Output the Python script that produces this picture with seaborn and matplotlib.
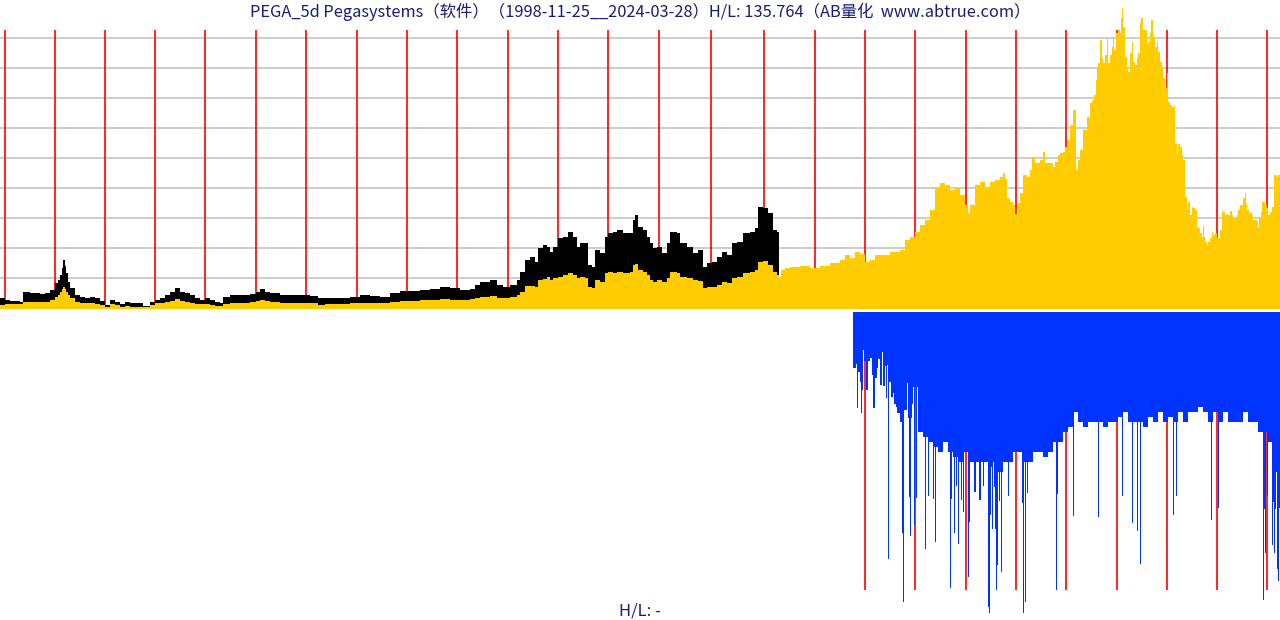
import numpy as np
import matplotlib
matplotlib.use("Agg")
import matplotlib.pyplot as plt
import seaborn as sns

# ---------------- data (bar index ~ weekly bars, heights in chart units) ----------------
title = "PEGA_5d Pegasystems（软件）（1998-11-25__2024-03-28）H/L: 135.764（AB量化  www.abtrue.com）"
footer = "H/L: -"

year_pos = [5, 55, 105, 155, 205, 256, 306, 357, 407, 457, 508, 558, 608, 659, 711,
            764, 815, 865, 915, 966, 1016, 1066, 1117, 1167, 1217, 1267]
grid_levels = [30, 60, 90, 120, 150, 180, 210, 240, 270]

# early period: close (yellow) and high band (black)
early_x = [0, 5, 10, 15, 20, 23, 30, 35, 40, 45, 50, 55, 58, 60, 62, 63, 65, 66, 68, 70, 75, 80, 85, 90, 95,
           100, 105, 110, 115, 120, 125, 130, 140, 143, 150, 155, 160, 165, 170, 175, 180, 185, 190, 195,
           200, 205, 210, 215, 220, 223, 230, 240, 250, 256, 260, 265, 270, 280, 290, 300, 310, 318, 325,
           335, 345, 350, 360, 370, 380, 390, 400, 410, 420, 430, 440, 450, 460, 470, 475, 480, 490, 497,
           503, 510, 517, 520, 525, 530, 535, 538, 543, 547, 550, 553, 558, 563, 568, 573, 577, 580, 585,
           588, 592, 595, 600, 605, 608, 613, 617, 623, 630, 633, 635, 638, 643, 647, 650, 653, 657, 662,
           667, 670, 677, 680, 687, 693, 698, 703, 707, 712, 717, 722, 727, 732, 737, 743, 750, 755, 758,
           763, 768, 773, 777]
early_close = [3, 4, 4, 4, 4, 6, 6, 6, 6, 6, 8, 11, 13, 16, 19, 21, 19, 16, 13, 10, 6, 5, 5, 5, 4,
               3, 1, 4, 3, 1, 2, 1, 1, 1, 3, 5, 5, 6, 7, 9, 7, 6, 5, 4,
               4, 4, 3, 2, 2, 4, 5, 5, 6, 7, 8, 7, 6, 5, 5, 5, 5, 3, 4,
               4, 4, 5, 5, 5, 5, 6, 7, 7, 8, 8, 9, 8, 8, 9, 10, 11, 12, 10,
               10, 11, 13, 16, 22, 22, 21, 28, 29, 31, 28, 30, 31, 33, 35, 33, 30, 31, 30,
               21, 20, 28, 26, 35, 36, 35, 36, 35, 36, 43, 44, 38, 36, 33, 28, 26, 28, 26,
               30, 36, 35, 31, 30, 28, 27, 20, 21, 21, 23, 26, 25, 30, 31, 35, 36, 38, 46,
               47, 43, 36, 33]
early_high = [10, 8, 7, 7, 6, 16, 15, 15, 14, 15, 18, 25, 28, 33, 40, 48, 42, 35, 26, 20, 13, 11, 10, 11, 10,
              7, 3, 8, 6, 4, 6, 5, 5, 2, 6, 8, 10, 13, 16, 20, 16, 15, 13, 10,
              8, 10, 8, 6, 5, 11, 13, 13, 14, 16, 19, 16, 15, 13, 13, 13, 12, 10, 10,
              10, 10, 11, 13, 12, 11, 15, 17, 17, 18, 19, 21, 20, 18, 19, 23, 26, 28, 23,
              21, 23, 28, 36, 48, 51, 46, 60, 63, 61, 56, 61, 70, 71, 76, 71, 61, 65, 65,
              43, 41, 58, 55, 71, 75, 76, 78, 75, 75, 88, 93, 81, 78, 71, 65, 60, 61, 55,
              65, 76, 75, 65, 61, 55, 58, 41, 45, 46, 51, 56, 53, 65, 66, 75, 76, 80, 101,
              100, 95, 78, 76]

# later period: close only
late_x = [779, 781, 785, 790, 800, 810, 820, 830, 840, 845, 850, 855, 860, 865, 870, 875, 880, 890, 900,
          905, 910, 915, 920, 925, 930, 935, 940, 945, 950, 955, 960, 965, 968, 970, 975, 980, 985, 990,
          995, 1000, 1003, 1005, 1007, 1010, 1013, 1015, 1018, 1020, 1023, 1027, 1030, 1032, 1035, 1040,
          1043, 1045, 1050, 1053, 1055, 1058, 1060, 1063, 1065, 1067, 1070, 1073, 1076, 1078, 1080, 1083,
          1087, 1090, 1092, 1094, 1096, 1097, 1098, 1100, 1102, 1103, 1105, 1107, 1108, 1110, 1112, 1113,
          1114, 1116, 1118, 1120, 1121, 1122, 1123, 1125, 1127, 1128, 1130, 1132, 1133, 1135, 1137, 1138,
          1140, 1141, 1143, 1145, 1147, 1148, 1150, 1151, 1153, 1154, 1155, 1157, 1158, 1160, 1162, 1163,
          1165, 1167, 1168, 1170, 1172, 1174, 1175, 1177, 1178, 1180, 1182, 1183, 1185, 1187, 1188, 1190,
          1192, 1193, 1195, 1197, 1198, 1200, 1202, 1203, 1204, 1205, 1207, 1208, 1210, 1212, 1213, 1215,
          1217, 1218, 1220, 1222, 1223, 1225, 1227, 1228, 1230, 1232, 1233, 1235, 1237, 1238, 1240, 1242,
          1243, 1245, 1246, 1247, 1249, 1251, 1252, 1253, 1255, 1257, 1258, 1259, 1261, 1262, 1263, 1265,
          1267, 1268, 1270, 1272, 1273, 1274, 1277, 1278]
late_close = [31, 38, 40, 41, 42, 40, 42, 45, 48, 53, 50, 56, 54, 46, 48, 53, 53, 56, 58,
              68, 71, 76, 83, 88, 98, 120, 125, 123, 118, 120, 113, 103, 95, 103, 123, 126, 121, 126,
              128, 131, 135, 129, 110, 106, 103, 94, 105, 115, 133, 131, 138, 151, 145, 148,
              156, 145, 145, 141, 146, 153, 155, 156, 161, 168, 183, 198, 138, 148, 158, 178,
              191, 205, 208, 213, 228, 240, 245, 268, 250, 245, 253, 269, 245, 253, 261, 270,
              258, 275, 278, 275, 290, 300, 281, 251, 241, 236, 255, 266, 246, 243, 250, 255,
              285, 290, 278, 278, 263, 266, 275, 288, 273, 270, 261, 266, 256, 246, 241, 230,
              220, 235, 206, 203, 201, 203, 165, 153, 164, 161, 153, 148, 111, 98, 106, 93,
              101, 100, 98, 81, 80, 75, 71, 82, 71, 66, 63, 66, 70, 76, 73, 75,
              70, 70, 78, 97, 96, 93, 94, 93, 97, 93, 89, 90, 93, 98, 103, 103,
              110, 115, 105, 98, 95, 96, 93, 88, 88, 86, 80, 90, 96, 106, 106, 103,
              100, 93, 96, 101, 101, 133, 131, 133]

# lower panel: bar depths (body) and isolated long bars
body_x = [853, 856, 857, 858, 860, 861, 862, 863, 864, 866, 868, 870, 872, 873, 875, 877, 878, 880, 882,
          883, 885, 886, 887, 889, 891, 893, 894, 896, 897, 900, 904, 907, 908, 912, 913,
          918, 923, 928, 933, 938, 943,
          948, 953, 958, 963, 968, 973, 978, 983, 988, 993, 998, 1003, 1008, 1013, 1018, 1023, 1028, 1033,
          1038, 1043, 1048, 1053, 1058, 1063, 1068, 1073, 1078, 1083, 1088, 1093, 1098, 1103, 1108, 1113,
          1118, 1123, 1128, 1133, 1138, 1143, 1148, 1153, 1158, 1163, 1168, 1173, 1178, 1183, 1188, 1193,
          1198, 1203, 1208, 1213, 1218, 1223, 1228, 1233, 1238, 1243, 1248, 1253, 1258, 1263, 1268, 1273, 1278]
body_depth = [56, 52, 96, 60, 70, 101, 78, 38, 49, 78, 49, 46, 63, 96, 66, 56, 47, 73, 40,
              74, 54, 86, 53, 70, 85, 81, 92, 95, 101, 110, 98, 71, 106, 92, 75,
              120, 125, 130, 135, 140, 130,
              140, 145, 150, 140, 150, 150, 150, 150, 155, 150, 160, 150, 150, 140, 140, 150, 150, 140,
              140, 145, 140, 130, 130, 120, 115, 100, 110, 115, 110, 110, 110, 115, 110, 110,
              105, 100, 110, 110, 110, 115, 105, 110, 100, 110, 105, 110, 100, 110, 100, 100,
              95, 100, 110, 100, 110, 100, 110, 110, 110, 100, 110, 110, 120, 120, 130, 160, 150]
spike_x = [888, 902, 903, 909, 910, 914, 916, 925, 928, 933, 935, 950, 951, 954, 956, 958, 961, 963, 968,
           969, 974, 975, 979, 980, 983, 988, 989, 990, 992, 994, 995, 996, 997, 999, 1001, 1008, 1022,
           1023, 1025, 1027, 1056, 1057, 1073, 1098, 1122, 1132, 1137, 1140, 1173, 1176, 1211, 1218, 1263,
           1264, 1265, 1267, 1272, 1273, 1274, 1275, 1277, 1278, 1279]
spike_depth = [247, 221, 290, 185, 224, 213, 186, 237, 184, 187, 230, 276, 187, 221, 174, 232, 188, 200, 265,
               210, 180, 180, 188, 188, 174, 295, 301, 203, 217, 175, 217, 278, 253, 189, 260, 184, 191,
               301, 290, 181, 278, 182, 204, 205, 184, 211, 219, 252, 203, 184, 208, 196, 288,
               197, 241, 183, 233, 190, 241, 197, 257, 269, 196]

# ---------------- styling ----------------
sns.set_theme(style="white")
plt.rcParams["font.family"] = ["Noto Sans CJK SC", "DejaVu Sans"]

YELLOW = "#FFCC00"
BLUE = "#0033FF"
RED = "#FF0000"
GRID = "#C8C8C8"
NAVY = "#1B1B78"

W, H = 1280, 620
fig = plt.figure(figsize=(W / 100, H / 100), dpi=100)
fig.patch.set_facecolor("white")

def px_axes(top, bottom):
    return fig.add_axes([0, 1 - bottom / H, 1, (bottom - top) / H])

# top panel: pixel rows 0..309
ax = px_axes(0, 309)
ax.set_xlim(0, 1280)
ax.set_ylim(-1, 308)
ax.axis("off")

for g in grid_levels:
    ax.axhline(g, color=GRID, lw=1.3, zorder=1)
ax.vlines(year_pos, -1, 278, color=RED, lw=1.2, zorder=2)

ex = np.array(early_x, float)
ew = np.diff(np.append(ex, 779))
ax.bar(ex, np.array(early_high) + 1, width=ew, bottom=-1, align="edge", color="black", lw=0, zorder=3)
ax.bar(ex, np.array(early_close) + 1, width=ew, bottom=-1, align="edge", color=YELLOW, lw=0, zorder=4)
lx = np.array(late_x, float)
lw_ = np.diff(np.append(lx, 1280))
ax.bar(lx, np.array(late_close) + 1, width=lw_, bottom=-1, align="edge", color=YELLOW, lw=0, zorder=4)

# bottom panel: pixel rows 312..620
bx = px_axes(312, 620)
bx.set_xlim(0, 1280)
bx.set_ylim(308, 0)
bx.axis("off")
bx.vlines([p for p in year_pos if p > 853], 0, 278, color=RED, lw=1.2, zorder=2)
bxx = np.array(body_x, float)
bw = np.diff(np.append(bxx, 1280))
bx.bar(bxx, body_depth, width=bw, align="edge", color=BLUE, lw=0, zorder=3)
bx.bar(np.array(spike_x, float), spike_depth, width=1.0, align="edge", color=BLUE, lw=0, zorder=3)

fig.text(0.5, 1 - 12 / H, title, ha="center", va="center", fontsize=11.8, color=NAVY)
fig.text(640 / W, 1 - 611 / H, footer, ha="center", va="center", fontsize=12, color=NAVY)

fig.savefig("out.png", dpi=100, facecolor="white")
